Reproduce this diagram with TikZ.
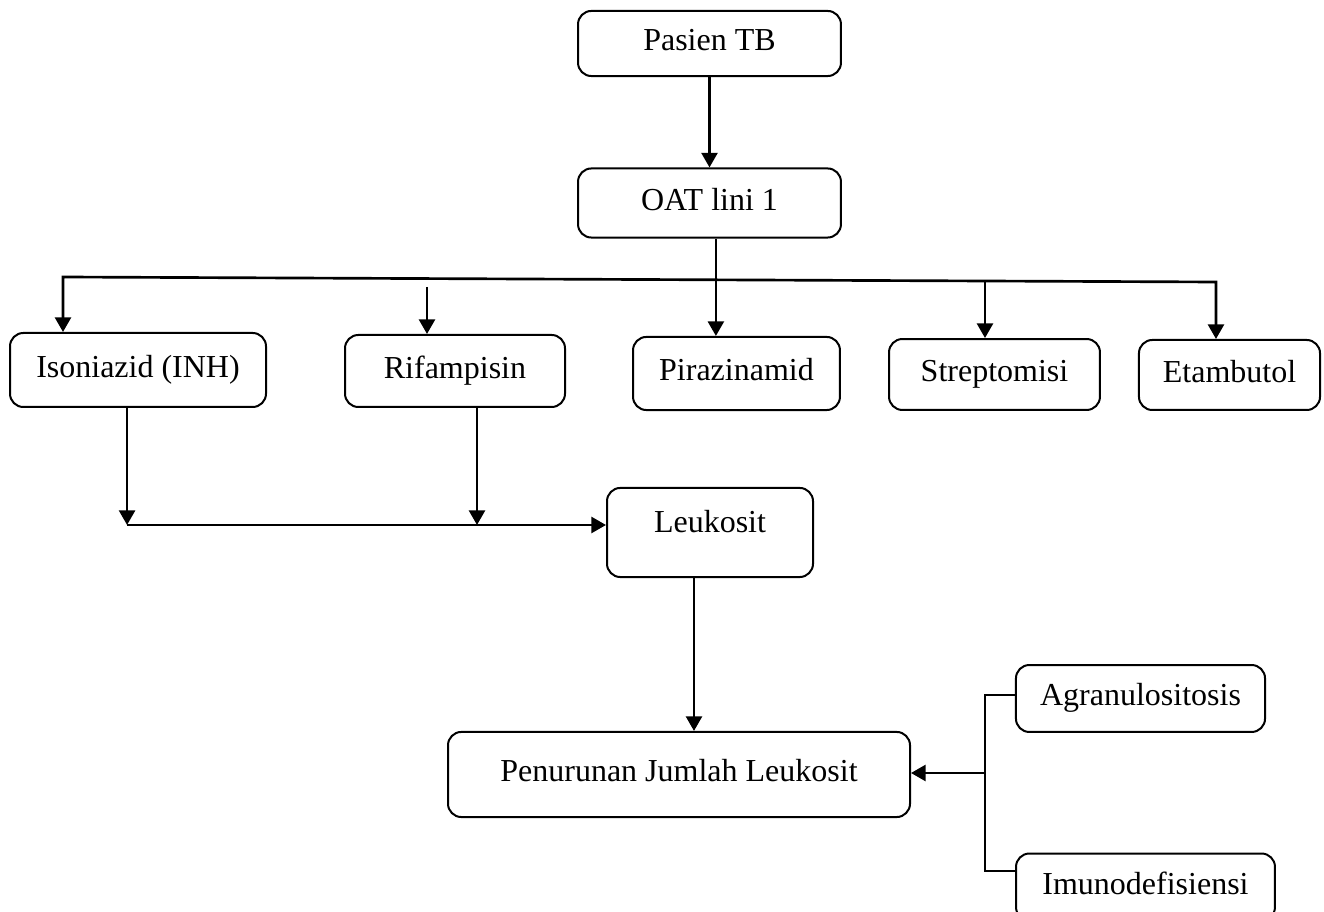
\documentclass[tikz,border=0pt]{standalone}
\usepackage{fontspec}
\setmainfont{Liberation Serif}
\usetikzlibrary{arrows.meta}

\begin{document}
\begin{tikzpicture}[x=0.375pt, y=-0.375pt, >={Triangle[length=5.5pt,width=6pt]},
                    line width=1pt, main node/.style={draw,rounded corners=5pt,line width=0.75pt,
                    font=\fontsize{12}{14}\selectfont,text height=8pt,text depth=2.5pt,inner sep=0pt}]
  \useasboundingbox (0,0) rectangle (1324,912);

  \node[main node, minimum width=98.6pt, minimum height=24.4pt] (pasien) at (709.5,43.5) {Pasien TB};
  \node[main node, minimum width=98.6pt, minimum height=25.9pt] (oat) at (709.5,203) {OAT lini 1};
  \node[main node, minimum width=96pt, minimum height=27.75pt] (inh) at (138,370) {Isoniazid (INH)};
  \node[main node, minimum width=82.5pt, minimum height=27pt] (rif) at (455,371) {Rifampisin};
  \node[main node, minimum width=77.6pt, minimum height=27.4pt] (pza) at (736.5,373.5) {Pirazinamid};
  \node[main node, minimum width=79.1pt, minimum height=26.6pt] (str) at (994.5,374.5) {Streptomisi};
  \node[main node, minimum width=67.9pt, minimum height=26.25pt] (emb) at (1229.5,375) {Etambutol};
  \node[main node, minimum width=77.25pt, minimum height=33.4pt, text depth=8pt] (leu) at (710,532.5) {Leukosit};
  \node[main node, minimum width=173.25pt, minimum height=31.9pt] (pjl) at (679,774.5) {Penurunan Jumlah Leukosit};
  \node[main node, minimum width=93.4pt, minimum height=25.1pt] (agr) at (1140.5,698.5) {Agranulositosis};
  \node[main node, minimum width=97.1pt, minimum height=25.1pt] (imu) at (1145.5,887) {Imunodefisiensi};

  \coordinate (oat out) at ([xshift=2.4pt]oat.south);
  \coordinate (bl) at (63,277);
  \coordinate (br) at (1216,282);
  \coordinate (rif in) at (427,287);
  \coordinate (str in) at (985,281);
  \coordinate (inh out) at ([xshift=-4.1pt]inh.south);
  \coordinate (rif out) at ([xshift=8.25pt]rif.south);
  \coordinate (jn) at (127,525);
  \coordinate (leu out) at ([xshift=-6pt]leu.south);
  \coordinate (bt) at (985,695);
  \coordinate (bb) at (985,871);
  \coordinate (bm) at (985,773);

  \path[->] (pasien) edge (oat);
  \draw[->] (oat out) -- (oat out |- pza.north);
  \draw[<->] (bl |- inh.north) -- (bl) -- (br) -- (br |- emb.north);
  \draw[->] (rif in) -- (rif in |- rif.north);
  \draw[->] (str in) -- (str in |- str.north);

  \draw[->] (inh out) -- (inh out |- jn);
  \draw[->] (rif out) -- (rif out |- jn);
  \draw[->] (jn) -- (jn -| leu.west);
  \draw[->] (leu out) -- (leu out |- pjl.north);

  \draw (agr.west |- bt) -- (bt) -- (bb) -- (imu.west |- bb);
  \draw[->] (bm) -- (bm -| pjl.east);
\end{tikzpicture}
\end{document}
